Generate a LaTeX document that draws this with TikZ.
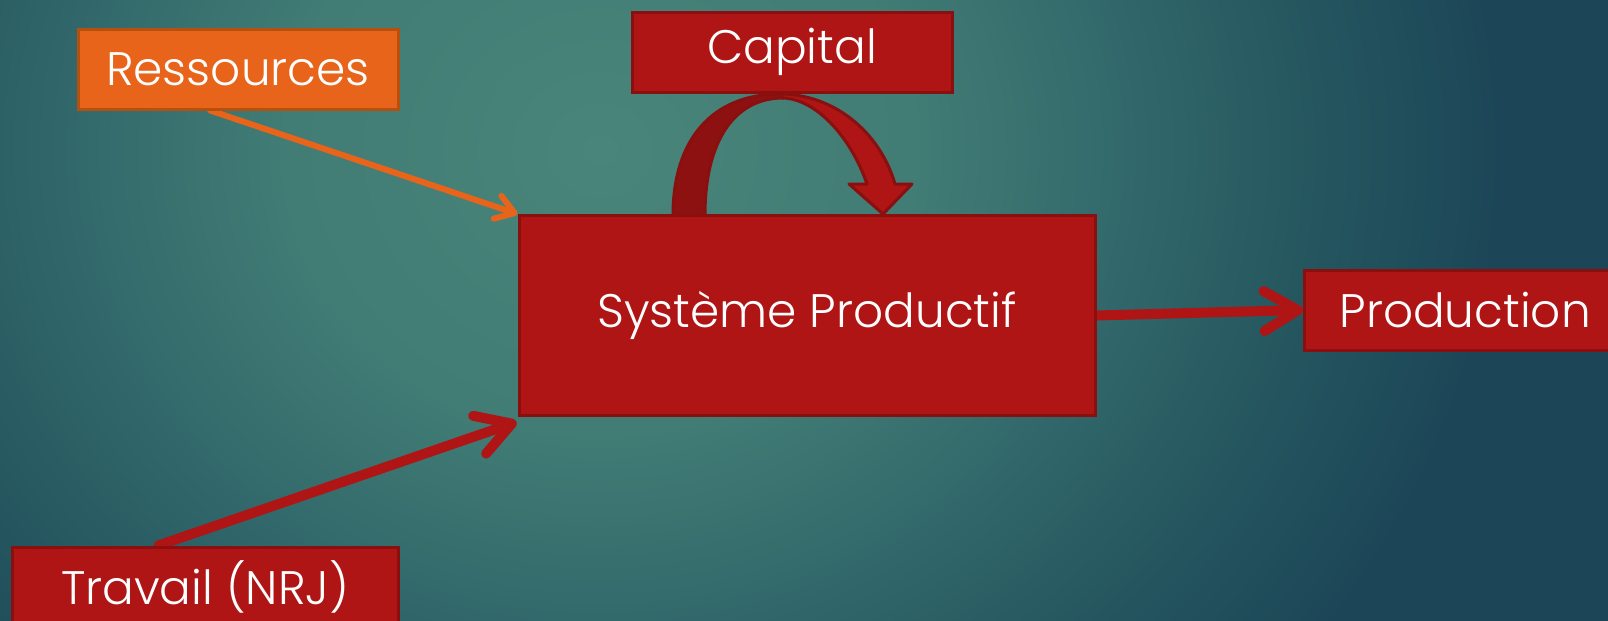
\documentclass[tikz,border=0pt]{standalone}
\usepackage{fontspec}
\setmainfont{Poppins}[UprightFont=* Light]
\usetikzlibrary{arrows.meta,calc}
\definecolor{boxred}{HTML}{B01515}
\definecolor{boxredline}{HTML}{8A0F0F}
\definecolor{backred}{HTML}{8E1111}
\definecolor{orangefill}{HTML}{E8641A}
\definecolor{orangeline}{HTML}{B5500F}
\definecolor{bgA}{HTML}{4A857B}
\definecolor{bgB}{HTML}{417C75}
\definecolor{bgC}{HTML}{31676A}
\definecolor{bgD}{HTML}{275A61}
\definecolor{bgE}{HTML}{1C4657}
\pgfdeclareradialshading{bgshade}{\pgfpoint{0bp}{0bp}}{color(0bp)=(bgA); color(8.75bp)=(bgB); color(15bp)=(bgC); color(18.75bp)=(bgD); color(25bp)=(bgE); color(50bp)=(bgE)}
\pgfdeclarelayer{bglayer}
\pgfdeclarelayer{arrowlayer}
\pgfsetlayers{bglayer,arrowlayer,main}
\tikzset{
  redbox/.style={draw=boxredline, fill=boxred, line width=1.5pt, text=white,
    font=\fontsize{23.5pt}{28pt}\selectfont, inner sep=0pt},
  orangebox/.style={redbox, draw=orangeline, fill=orangefill},
  thickarrow/.style={draw=boxred, line width=5pt, line cap=round,
    -{Straight Barb[length=17pt,width=20pt,round]}},
  thinarrow/.style={draw=orangefill, line width=3pt, line cap=round,
    -{Straight Barb[length=9pt,width=12pt,round]}},
  curvefront/.style={fill=boxred, draw=boxredline, line width=1.5pt, line join=round},
  curveback/.style={fill=backred, draw=boxredline, line width=1.5pt, line join=round}
}
\begin{document}
\begin{tikzpicture}[x=0.5pt,y=-0.5pt]
\useasboundingbox (0,0) rectangle (1608,621);
\begin{pgfonlayer}{bglayer}
  \fill[bgE] (0,0) rectangle (1608,621);
  \shade[shading=bgshade] (600,150) ellipse[x radius=450pt, y radius=406pt];
\end{pgfonlayer}

% nodes
\node[orangebox, minimum width=160pt, minimum height=40pt] (res) at (238,69) {Ressources};
\node[redbox, minimum width=160pt, minimum height=40pt] (cap) at (792,52) {Capital};
\node[redbox, minimum width=288pt, minimum height=100pt] (main) at (807,315.5) {Système Productif};
\node[redbox, anchor=west, minimum height=40pt, inner xsep=17.5pt, text width=170pt, align=left] (prod) at (1303,310) {Production};
\node[redbox, minimum width=193pt, minimum height=40pt] (trav) at (205,587) {Travail (NRJ)};

% curved arrow from capital
\draw[curveback] (673,215) .. controls (673,140) and (712,94) .. (780,94)
  -- (783,98) .. controls (735,98) and (705,140) .. (705,215) -- cycle;
\draw[curvefront] (780,94) .. controls (833,94) and (879.5,131) .. (895,184)
  -- (912,184) -- (883,214) -- (849,184) -- (867,184)
  .. controls (850,135) and (815,99) .. (783,98) -- cycle;

% connectors
\coordinate (resstart) at ($(res.south west)!0.414!(res.south east)$);
\coordinate (travstart) at ($(trav.north west)!0.38!(trav.north east)$);
\coordinate (travend) at ($(main.south west)+(-1,5)$);
\begin{pgfonlayer}{arrowlayer}
  \draw[thinarrow] (resstart) -- (main.north west);
  \draw[thickarrow] (travstart) -- (travend);
  \draw[thickarrow] (main.east) -- (prod.west);
\end{pgfonlayer}
\end{tikzpicture}
\end{document}
